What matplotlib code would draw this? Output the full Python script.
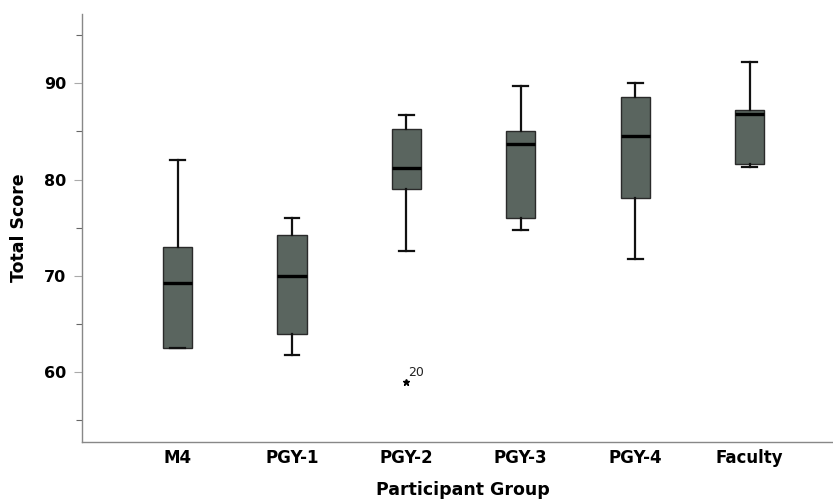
import matplotlib
matplotlib.use("Agg")
import matplotlib.pyplot as plt

groups = ["M4", "PGY-1", "PGY-2", "PGY-3", "PGY-4", "Faculty"]
whislo = [62.5, 61.75, 72.6, 74.8, 71.8, 81.35]
q1 = [62.5, 64.0, 79.05, 76.05, 78.05, 81.6]
med = [69.25, 70.0, 81.2, 83.7, 84.55, 86.8]
q3 = [73.0, 74.3, 85.2, 85.0, 88.6, 87.2]
whishi = [82.0, 76.0, 86.7, 89.75, 90.0, 92.25]
outliers = [[], [], [59.0], [], [], []]
outlier_labels = [[], [], ["20"], [], [], []]

yticks_major = [60, 70, 80, 90]
yticks_minor = [55, 65, 75, 85, 95]

plt.rcParams['font.family'] = ['DejaVu Sans']

fig = plt.figure(figsize=(8.33, 4.99), dpi=100)
ax = fig.add_axes([0.098, 0.1136, 0.902, 0.8584])

stats = []
for i, g in enumerate(groups):
    stats.append(dict(label=g, whislo=whislo[i], q1=q1[i], med=med[i], q3=q3[i],
                      whishi=whishi[i], fliers=[]))

pos = list(range(len(groups)))
ax.bxp(stats, positions=pos, widths=0.255, patch_artist=True, showfliers=False,
       boxprops=dict(facecolor="#5a655f", edgecolor="#2a2a2a", linewidth=1.0),
       medianprops=dict(color="black", linewidth=2.4),
       whiskerprops=dict(color="#111111", linewidth=1.6),
       capprops=dict(color="#111111", linewidth=1.6),
       capwidths=0.13)

for i in range(len(groups)):
    for v, lab in zip(outliers[i], outlier_labels[i]):
        ax.plot(pos[i], v, marker="*", color="black", markersize=5, linestyle="none")
        ax.annotate(lab, (pos[i], v), xytext=(1.5, 4), textcoords="offset points",
                    fontsize=9, color="#222222")

ax.set_xlim(-0.84, 5.73)
ax.set_ylim(52.73, 97.19)
ax.set_xticks(pos)
ax.set_xticklabels(groups, fontsize=12, fontweight="bold")
ax.set_yticks(yticks_major)
ax.set_yticklabels([str(t) for t in yticks_major], fontsize=11.5, fontweight="bold")
ax.set_yticks(yticks_minor, minor=True)
ax.tick_params(axis="x", length=0, pad=4.5)
ax.tick_params(axis="y", which="major", length=6, width=0.8, color="#aaaaaa", pad=5)
ax.tick_params(axis="y", which="minor", length=4, width=0.8, color="#666666")

for s in ["top", "right"]:
    ax.spines[s].set_visible(False)
for s in ["left", "bottom"]:
    ax.spines[s].set_color("#888888")
    ax.spines[s].set_linewidth(1.0)

ax.set_xlabel("Participant Group", fontsize=12.5, fontweight="bold")
ax.set_ylabel("Total Score", fontsize=12.5, fontweight="bold")
ax.xaxis.set_label_coords(0.508, -0.0905)
ax.yaxis.set_label_coords(-0.0711, 0.5)

fig.savefig("out.png", dpi=100)
